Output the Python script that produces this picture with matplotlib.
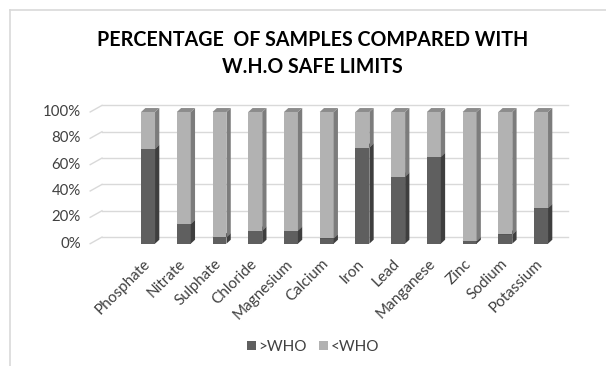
import matplotlib.pyplot as plt
import numpy as np
from matplotlib.patches import Polygon, Rectangle
from matplotlib.lines import Line2D

categories = ['Phosphate', 'Nitrate', 'Sulphate', 'Chloride', 'Magnesium', 'Calcium',
              'Iron', 'Lead', 'Manganese', 'Zinc', 'Sodium', 'Potassium']
above_who = [72, 15, 5, 10, 10, 4, 73, 51, 66, 2, 7, 27]   # % of samples > WHO limit
below_who = [100 - v for v in above_who]
yticks = [0, 20, 40, 60, 80, 100]

plt.rcParams['font.family'] = ['Lato', 'DejaVu Sans']

fig = plt.figure(figsize=(6.06, 3.66), dpi=100)
# chart border (only left and top edges are visible in the crop)
fig.add_artist(Line2D([10/606, 10/606], [0, 1 - 10/366], color='#d9d9d9', lw=1.2))
fig.add_artist(Line2D([10/606, 1], [1 - 10/366, 1 - 10/366], color='#d9d9d9', lw=1.2))

ax = fig.add_axes([80/606, (366-250)/366, 500/606, 150/366])
ax.set_xlim(-1.905, 12.09)
ax.set_ylim(-4.8, 109.1)
ax.axis('off')

x = np.arange(len(categories))
w = 0.39      # bar front width
dx = 0.12     # depth (x)
dy = 3.0      # depth (y, in %)

# back wall gridlines + floor diagonals
for t in yticks:
    ax.plot([-1.29, 11.76], [t + 5.0, t + 5.0], color='#d9d9d9', lw=1, zorder=1)
    ax.plot([-1.62, -1.29], [t, t + 5.0], color='#d9d9d9', lw=1, zorder=1)
    ax.text(-1.88, t, f'{t}%', ha='right', va='center', fontsize=10.8, color='#404040')

def bar3d(xc, y0, h, front, side, top):
    l, r = xc - w/2, xc + w/2
    ax.add_patch(Rectangle((l, y0), w, h, facecolor=front, edgecolor='none', zorder=3))
    ax.add_patch(Polygon([(r, y0), (r + dx, y0 + dy), (r + dx, y0 + h + dy), (r, y0 + h)],
                         closed=True, facecolor=side, edgecolor='none', zorder=3))
    ax.add_patch(Polygon([(l, y0 + h), (r, y0 + h), (r + dx, y0 + h + dy), (l + dx, y0 + h + dy)],
                         closed=True, facecolor=top, edgecolor='none', zorder=3))

for i in range(len(categories)):
    bar3d(x[i], 0, above_who[i], '#5f5f5f', '#3e3e3e', '#4a4a4a')
    bar3d(x[i], above_who[i], below_who[i], '#b2b2b2', '#7c7c7c', '#8c8c8c')
    ax.text(x[i] - 0.15, -10, categories[i], rotation=45, ha='right', va='top',
            rotation_mode='anchor', fontsize=11, color='#404040')

fig.text(0.516, 1 - 40/366, 'PERCENTAGE  OF SAMPLES COMPARED WITH', ha='center', va='center',
         fontsize=14.1, fontweight='bold', color='#000000')
fig.text(0.516, 1 - 67/366, 'W.H.O SAFE LIMITS', ha='center', va='center',
         fontsize=14.1, fontweight='bold', color='#000000')

handles = [Rectangle((0, 0), 1, 1, facecolor='#5f5f5f'), Rectangle((0, 0), 1, 1, facecolor='#b2b2b2')]
fig.legend(handles, ['>WHO', '<WHO'], loc='center', bbox_to_anchor=(313/606, 1 - 347/366),
           ncol=2, frameon=False, fontsize=11, handlelength=0.6, handleheight=0.6,
           handletextpad=0.15, columnspacing=0.8, labelcolor='#404040')

fig.savefig('out.png', dpi=100)
